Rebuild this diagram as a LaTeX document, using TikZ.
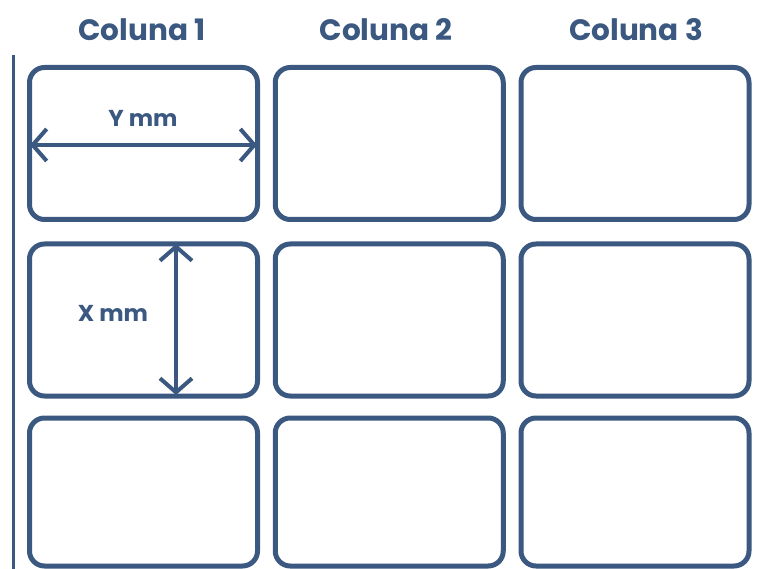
\documentclass[tikz,border=0pt]{standalone}
\usepackage{fontspec}
\setmainfont{Poppins}
\usetikzlibrary{arrows.meta}
\definecolor{navy}{RGB}{58,88,128}
\begin{document}
\begin{tikzpicture}[x=1pt,y=-1pt,
  cell/.style={draw=navy,line width=5pt,rounded corners=15pt,minimum width=228pt,minimum height=152pt,inner sep=0pt,outer sep=0pt,anchor=north west},
  head/.style={text=navy,font=\bfseries\fontsize{29.5}{33}\selectfont,inner sep=0pt},
  lbl/.style={text=navy,font=\bfseries\fontsize{23}{26}\selectfont,inner sep=0pt},
  dim/.style={draw=navy,line width=4pt,{Straight Barb[length=14pt,width=32pt]}-{Straight Barb[length=14pt,width=32pt]}}]
\fill[white] (0,0) rectangle (760,569);
\useasboundingbox (0,0) rectangle (760,569);
% left rule
\coordinate (lt) at (13,55);
\coordinate (lb) at (13,569);
\draw[navy,line width=3pt] (lt) -- (lb);
% headers
\node[head] (h1) at (142,29.5) {Coluna 1};
\node[head] (h2) at (386,29.5) {Coluna 2};
\node[head] (h3) at (636,29.5) {Coluna 3};
% boxes
\node[cell] (c11) at (29.5,67.5) {};
\node[cell] (c12) at (275.25,67.5) {};
\node[cell] (c13) at (521,67.5) {};
\node[cell] (c21) at (29.5,244) {};
\node[cell] (c22) at (275.25,244) {};
\node[cell] (c23) at (521,244) {};
\node[cell,minimum height=148pt] (c31) at (29.5,418) {};
\node[cell,minimum height=148pt] (c32) at (275.25,418) {};
\node[cell,minimum height=148pt] (c33) at (521,418) {};
% dimension arrows
\coordinate (ya) at (30,145);
\coordinate (yb) at (257,145);
\draw[dim] (ya) -- (yb);
\node[lbl] (ylab) at (143,118) {Y mm};
\coordinate (xa) at (176,244);
\coordinate (xb) at (176,395);
\draw[dim] (xa) -- (xb);
\node[lbl] (xlab) at (113,313) {X mm};
\end{tikzpicture}
\end{document}
